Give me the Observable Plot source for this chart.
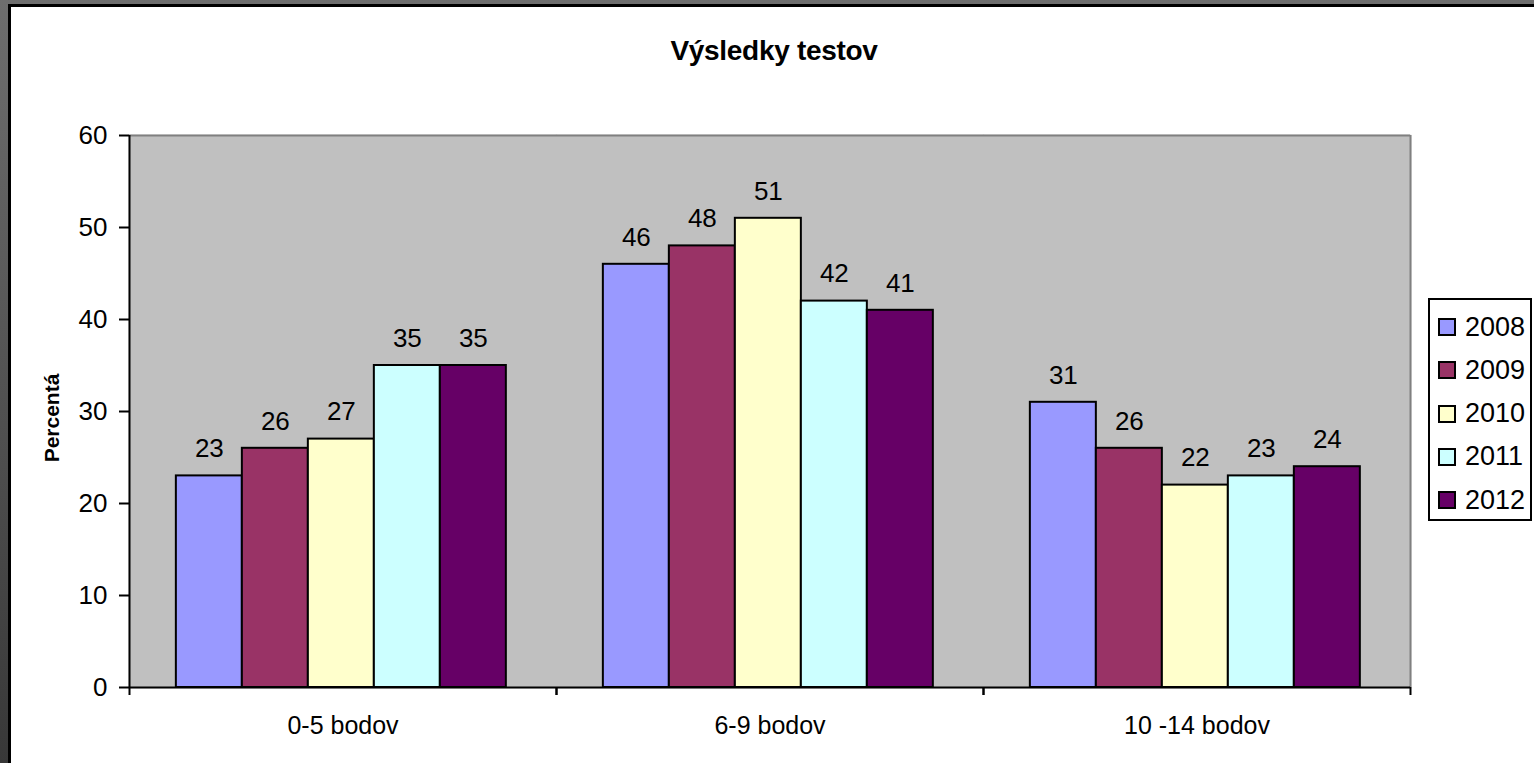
<!DOCTYPE html>
<html>
<head>
<meta charset="utf-8">
<script src="https://cdn.jsdelivr.net/npm/d3@7"></script>
<script src="https://cdn.jsdelivr.net/npm/@observablehq/plot@0.6"></script>
<style>
  html, body { margin: 0; padding: 0; }
  body { width: 1534px; height: 763px; overflow: hidden; font-family: "Liberation Sans", Arial, sans-serif; }
  #outer { position: absolute; left: 0; top: 0; width: 1534px; height: 763px; background: linear-gradient(to bottom, #6e6e6e, #383838); }
  #inner { position: absolute; left: 8px; top: 4px; right: 0; bottom: 0; background: #fff; border-left: 3px solid #000; border-top: 3px solid #000; }
  #chart { position: absolute; left: 0; top: 0; }
  #title { position: absolute; left: 574px; width: 400px; top: 35px; text-align: center; font-weight: bold; font-size: 28px; color: #000; letter-spacing: -0.3px; }
  #ylabel { position: absolute; left: 52px; top: 418px; transform: translate(-50%, -50%) rotate(-90deg); font-weight: bold; font-size: 21px; white-space: nowrap; color: #000; }
  #legend { position: absolute; left: 1428px; top: 298px; width: 100px; height: 219px; border: 2px solid #000; background: #fff; box-sizing: content-box; }
  .item { position: absolute; left: 8px; height: 30px; display: flex; align-items: center; font-size: 27px; color: #000; }
  .sw { width: 14px; height: 14px; border: 2px solid #000; margin-right: 9px; }
</style>
</head>
<body>
<div id="outer"><div id="inner"></div></div>
<div id="chart"></div>
<div id="title">Výsledky testov</div>
<div id="ylabel">Percentá</div>
<div id="legend"></div>
<script>
const categories = ["0-5 bodov", "6-9 bodov", "10 -14 bodov"];
const years = ["2008", "2009", "2010", "2011", "2012"];
const values2008 = [23, 46, 31];
const values2009 = [26, 48, 26];
const values2010 = [27, 51, 22];
const values2011 = [35, 42, 23];
const values2012 = [35, 41, 24];
const colors = ["#9999FF", "#993366", "#FFFFCC", "#CCFFFF", "#660066"];
const yTicks = [0, 10, 20, 30, 40, 50, 60];

const series = [values2008, values2009, values2010, values2011, values2012];
const rows = [];
categories.forEach((cat, ci) => {
  years.forEach((year, yi) => {
    rows.push({cat, year, idx: yi, value: series[yi][ci]});
  });
});

const xMin = -0.71, xMax = years.length + 0.76;
const edges = categories.flatMap(c => [{cat: c, x: xMin}, {cat: c, x: xMax}]);

const font = "Liberation Sans, Arial, sans-serif";

const plot = Plot.plot({
  width: 1534,
  height: 763,
  marginLeft: 128,
  marginRight: 124,
  marginTop: 135,
  marginBottom: 76,
  style: {background: "transparent", fontFamily: font, color: "#000"},
  fx: {domain: categories, padding: 0, label: null, axis: null},
  x: {domain: [xMin, xMax], axis: null},
  y: {domain: [0, 60], axis: null},
  color: {domain: years, range: colors},
  marks: [
    Plot.frame({fill: "#c0c0c0", stroke: "#c0c0c0", strokeWidth: 1.5}),
    Plot.ruleY([60], {stroke: "#808080", strokeWidth: 2}),
    Plot.ruleX([{cat: categories[categories.length - 1], x: xMax}], {fx: "cat", x: "x", y1: 0, y2: 60, stroke: "#808080", strokeWidth: 2}),
    Plot.rectY(rows, {fx: "cat", x1: "idx", x2: d => d.idx + 1, y: "value", fill: "year", stroke: "#000", strokeWidth: 2}),
    Plot.text(rows, {fx: "cat", x: d => d.idx + 0.5, y: "value", text: d => String(d.value), dy: -27, fontSize: 26, fill: "#000"}),
    Plot.ruleX([{cat: categories[0], x: xMin}], {fx: "cat", x: "x", y1: 0, y2: 60, stroke: "#000", strokeWidth: 2}),
    Plot.ruleY([0], {stroke: "#000", strokeWidth: 2}),
    Plot.ruleX(edges, {fx: "cat", x: "x", y1: 0, y2: -0.87, stroke: "#000", strokeWidth: 2}),
    Plot.axisY({ticks: yTicks, tickSize: 10, tickPadding: 12, fontSize: 26, strokeWidth: 2, stroke: "#000", label: null}),
    Plot.axisFx({anchor: "bottom", tickSize: 0, tickPadding: 29, fontSize: 25, label: null})
  ]
});
document.getElementById("chart").appendChild(plot);

const legend = document.getElementById("legend");
years.forEach((y, i) => {
  const it = document.createElement("div");
  it.className = "item";
  it.style.top = (12 + i * 43.3) + "px";
  const sw = document.createElement("div");
  sw.className = "sw";
  sw.style.background = colors[i];
  const t = document.createElement("span");
  t.textContent = y;
  it.appendChild(sw);
  it.appendChild(t);
  legend.appendChild(it);
});
</script>
</body>
</html>
